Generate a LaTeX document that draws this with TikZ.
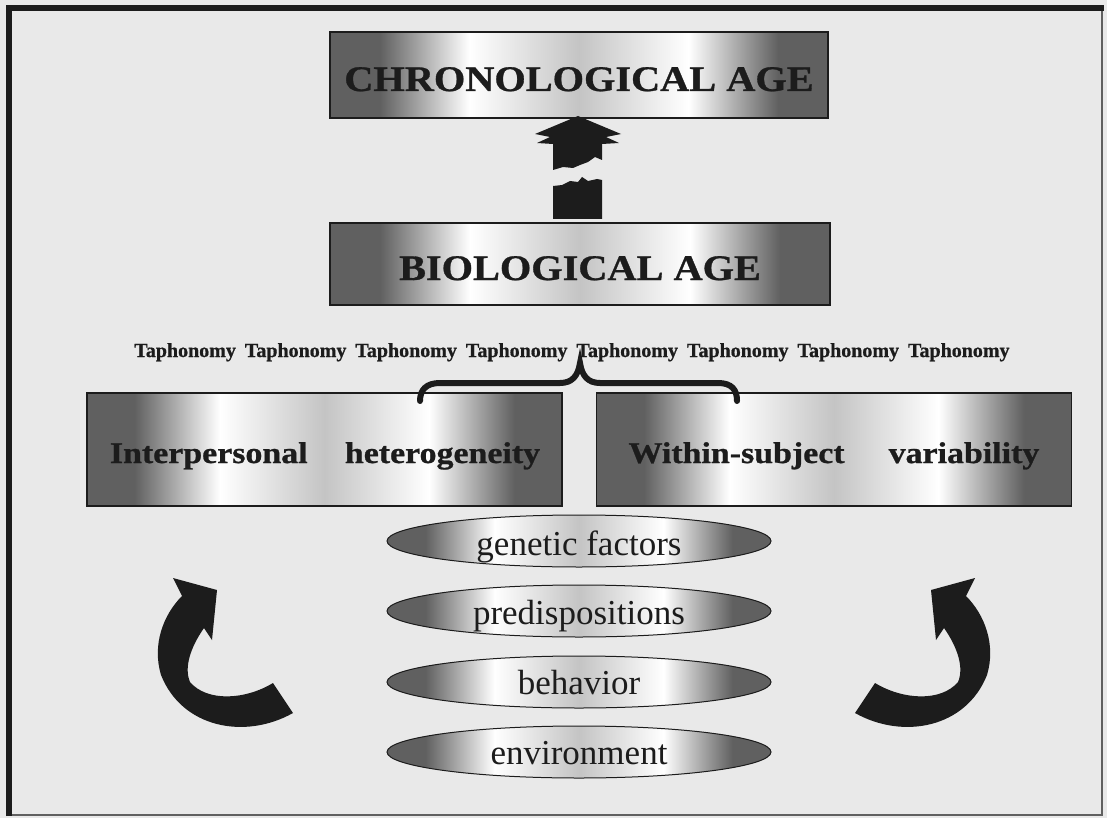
\documentclass[tikz,border=0pt]{standalone}
\usepackage{fontspec}
\setmainfont{Liberation Serif}[BoldFeatures={FakeBold=0.8}]
\usetikzlibrary{shapes.geometric}
\definecolor{bg}{HTML}{E9E9E9}
\definecolor{dk}{HTML}{606060}
\definecolor{md}{HTML}{C4C4C4}
\definecolor{ink}{HTML}{1C1C1C}
\pgfdeclarehorizontalshading{boxshade}{100bp}{color(0bp)=(dk); color(30bp)=(dk); color(39bp)=(white); color(50bp)=(md); color(61bp)=(white); color(70bp)=(dk); color(100bp)=(dk)}
\tikzset{
  agebox/.style={rectangle, draw=ink, line width=1.2pt, shade, shading=boxshade, inner sep=0pt},
  ovalbox/.style={ellipse, draw=ink, line width=1pt, shade, shading=boxshade, minimum width=384pt, minimum height=52pt, inner sep=0pt},
  bigtext/.style={font=\bfseries\fontsize{36}{40}\selectfont, text=ink, inner sep=0pt, anchor=base},
  midtext/.style={font=\bfseries\fontsize{30}{34}\selectfont, text=ink, inner sep=0pt, anchor=base},
  taphtext/.style={font=\bfseries\fontsize{20}{22}\selectfont, text=ink, inner sep=0pt, anchor=base},
  ovaltext/.style={font=\fontsize{35}{40}\selectfont, text=ink, inner sep=0pt, anchor=base},
  blockarrow/.style={fill=ink},
  bracestyle/.style={draw=ink, line width=6pt, line cap=round}
}
\begin{document}
\begin{tikzpicture}[x=1pt,y=-1pt]
\useasboundingbox (0,0) rectangle (1107,818);
\fill[bg] (0,0) rectangle (1107,818);
% frame
\draw[line width=2pt, ink!70] (1102,8) -- (1102,815) -- (9,815);
\draw[line width=6pt, ink] (9,816) -- (9,8) -- (1104,8);

% age boxes
\node[agebox, minimum width=498pt, minimum height=86pt] (chrono) at (579,75) {};
\node[bigtext] (chronot) at (579,91) {\scalebox{1.12}[1]{CHRONOLOGICAL AGE}};
\node[agebox, minimum width=500pt, minimum height=82pt] (bio) at (580,264) {};
\node[bigtext] (biot) at (580,280) {\scalebox{1.12}[1]{BIOLOGICAL AGE}};

% broken up arrow from bio to chrono
\fill[blockarrow] (578,116) -- (621,134) -- (606,137) -- (619,143) -- (602,144)
  -- (602,160) -- (595,157) -- (588,162) -- (580,165) -- (573,168) -- (563,167) -- (553,170)
  -- (553,144) -- (537,143) -- (550,137) -- (535,134) -- cycle;
\fill[blockarrow] (553,186) -- (562,185) -- (570,181) -- (578,182) -- (582,177) -- (588,181)
  -- (597,179) -- (602,180) -- (602,219) -- (553,219) -- cycle;

% taphonomy line
\node[taphtext] (taph) at (572,357) {Taphonomy\hspace{0.45em}Taphonomy\hspace{0.45em}Taphonomy\hspace{0.45em}Taphonomy\hspace{0.45em}Taphonomy\hspace{0.45em}Taphonomy\hspace{0.45em}Taphonomy\hspace{0.45em}Taphonomy};

% lower boxes
\node[agebox, minimum width=475pt, minimum height=113pt] (inter) at (324.5,449.5) {};
\node[midtext] (intert) at (325,463) {\scalebox{1.13}[1]{Interpersonal\hspace{1.1em}heterogeneity}};
\node[agebox, minimum width=475pt, minimum height=113pt] (within) at (834,449.5) {};
\node[midtext] (withint) at (834,463) {\scalebox{1.13}[1]{Within-subject\hspace{1.3em}variability}};

% brace
\draw[bracestyle] (420,401) .. controls (420,390) and (426,383) .. (440,383) -- (560,383)
  .. controls (572,383) and (578,376) .. (580,363)
  .. controls (582,376) and (588,383) .. (600,383) -- (718,383)
  .. controls (732,383) and (737,390) .. (737,401);

% ellipses
\node[ovalbox] (gen) at (579,541) {};
\node[ovaltext] (gent) at (579,555) {genetic factors};
\node[ovalbox] (pre) at (579,611) {};
\node[ovaltext] (pret) at (579,624) {predispositions};
\node[ovalbox] (beh) at (579,682) {};
\node[ovaltext] (beht) at (579,694) {behavior};
\node[ovalbox] (env) at (579,752) {};
\node[ovaltext] (envt) at (579,764) {environment};

% curved arrows
\fill[blockarrow] (293,713) .. controls (245,740) and (182,728) .. (161,675)
  .. controls (152,645) and (163,615) .. (182,596) -- (173,578) -- (217,590) -- (212,640) -- (204,628)
  .. controls (190,648) and (184,668) .. (190,682)
  .. controls (207,702) and (245,700) .. (273,683) -- cycle;
\begin{scope}[xshift=1148pt, xscale=-1]
\fill[blockarrow] (293,713) .. controls (245,740) and (182,728) .. (161,675)
  .. controls (152,645) and (163,615) .. (182,596) -- (173,578) -- (217,590) -- (212,640) -- (204,628)
  .. controls (190,648) and (184,668) .. (190,682)
  .. controls (207,702) and (245,700) .. (273,683) -- cycle;
\end{scope}
\end{tikzpicture}
\end{document}
